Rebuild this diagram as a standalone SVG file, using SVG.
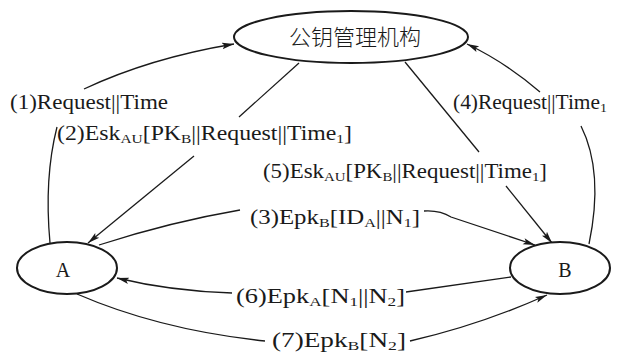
<svg xmlns="http://www.w3.org/2000/svg" width="618" height="356" viewBox="0 0 618 356">
  <style>
    .node { fill: #fff; stroke: #1a1a1a; stroke-width: 2; }
    .edge { fill: none; stroke: #1a1a1a; stroke-width: 1.3; }
    .lbl { font-family: "Liberation Serif", "Times New Roman", serif; font-size: 20px; fill: #1a1a1a; }
    .sub { font-size: 13px; }
    .cjk { font-family: "Noto Sans CJK SC", "Liberation Serif", sans-serif; font-size: 22px; font-weight: 300; fill: #1a1a1a; }
  </style>
  <defs>
    <marker id="arrow" markerUnits="userSpaceOnUse" markerWidth="14" markerHeight="10" refX="12" refY="4" orient="auto">
      <path d="M0,0.8 L12,4 L0,7.2 L2.5,4 Z" fill="#1a1a1a"/>
    </marker>
  </defs>

  <rect width="618" height="356" fill="#fff"/>

  <!-- connectors -->
  <g id="connectors">
    <!-- (1) A -> key authority -->
    <path class="edge" d="M50,243 Q44,178 57,127"/>
    <path class="edge" d="M84,89 Q150,58 234,44" marker-end="url(#arrow)"/>
    <!-- (2) key authority -> A -->
    <path class="edge" d="M299,63 L239,117"/>
    <path class="edge" d="M194,156 L88,243" marker-end="url(#arrow)"/>
    <!-- (4) B -> key authority -->
    <path class="edge" d="M589,244 Q604,172 581,126"/>
    <path class="edge" d="M540,92 Q505,62 467,44" marker-end="url(#arrow)"/>
    <!-- (5) key authority -> B -->
    <path class="edge" d="M405,62 L479,152"/>
    <path class="edge" d="M506,186 L552,243" marker-end="url(#arrow)"/>
    <!-- (3) A -> B -->
    <path class="edge" d="M99,245 Q170,222 240,210"/>
    <path class="edge" d="M424,211 Q440,210 451,217 L535,245" marker-end="url(#arrow)"/>
    <!-- (6) B -> A -->
    <path class="edge" d="M511,277 L406,292"/>
    <path class="edge" d="M232,293 Q170,291 117,278" marker-end="url(#arrow)"/>
    <!-- (7) A -> B -->
    <path class="edge" d="M77,294 Q160,330 265,341"/>
    <path class="edge" d="M410,341 Q480,325 547,295" marker-end="url(#arrow)"/>
  </g>

  <!-- message labels -->
  <g id="labels">
    <text class="lbl" x="10" y="109" textLength="158" lengthAdjust="spacingAndGlyphs">(1)Request||Time</text>
    <text class="lbl" x="57" y="140" textLength="295" lengthAdjust="spacingAndGlyphs">(2)Esk<tspan class="sub" dy="3">AU</tspan><tspan dy="-3">[PK</tspan><tspan class="sub" dy="3">B</tspan><tspan dy="-3">||Request||Time</tspan><tspan class="sub" dy="3">1</tspan><tspan dy="-3">]</tspan></text>
    <text class="lbl" x="453" y="109" textLength="154" lengthAdjust="spacingAndGlyphs">(4)Request||Time<tspan class="sub" dy="3">1</tspan></text>
    <text class="lbl" x="263" y="178" textLength="284" lengthAdjust="spacingAndGlyphs">(5)Esk<tspan class="sub" dy="3">AU</tspan><tspan dy="-3">[PK</tspan><tspan class="sub" dy="3">B</tspan><tspan dy="-3">||Request||Time</tspan><tspan class="sub" dy="3">1</tspan><tspan dy="-3">]</tspan></text>
    <text class="lbl" x="250" y="224" textLength="170" lengthAdjust="spacingAndGlyphs">(3)Epk<tspan class="sub" dy="3">B</tspan><tspan dy="-3">[ID</tspan><tspan class="sub" dy="3">A</tspan><tspan dy="-3">||N</tspan><tspan class="sub" dy="3">1</tspan><tspan dy="-3">]</tspan></text>
    <text class="lbl" x="236" y="303" textLength="169" lengthAdjust="spacingAndGlyphs">(6)Epk<tspan class="sub" dy="3">A</tspan><tspan dy="-3">[N</tspan><tspan class="sub" dy="3">1</tspan><tspan dy="-3">||N</tspan><tspan class="sub" dy="3">2</tspan><tspan dy="-3">]</tspan></text>
    <text class="lbl" x="272" y="347" textLength="134" lengthAdjust="spacingAndGlyphs">(7)Epk<tspan class="sub" dy="3">B</tspan><tspan dy="-3">[N</tspan><tspan class="sub" dy="3">2</tspan><tspan dy="-3">]</tspan></text>
  </g>

  <!-- nodes -->
  <g id="node-kma">
    <ellipse class="node" cx="351" cy="37" rx="117" ry="26"/>
    <text class="cjk" x="355" y="45" text-anchor="middle">公钥管理机构</text>
  </g>
  <g id="node-a">
    <ellipse class="node" cx="67" cy="268" rx="50" ry="26"/>
    <text class="lbl" x="63" y="277" text-anchor="middle" font-size="23">A</text>
  </g>
  <g id="node-b">
    <ellipse class="node" cx="560" cy="268" rx="50" ry="26"/>
    <text class="lbl" x="565" y="277" text-anchor="middle" font-size="23">B</text>
  </g>
</svg>
